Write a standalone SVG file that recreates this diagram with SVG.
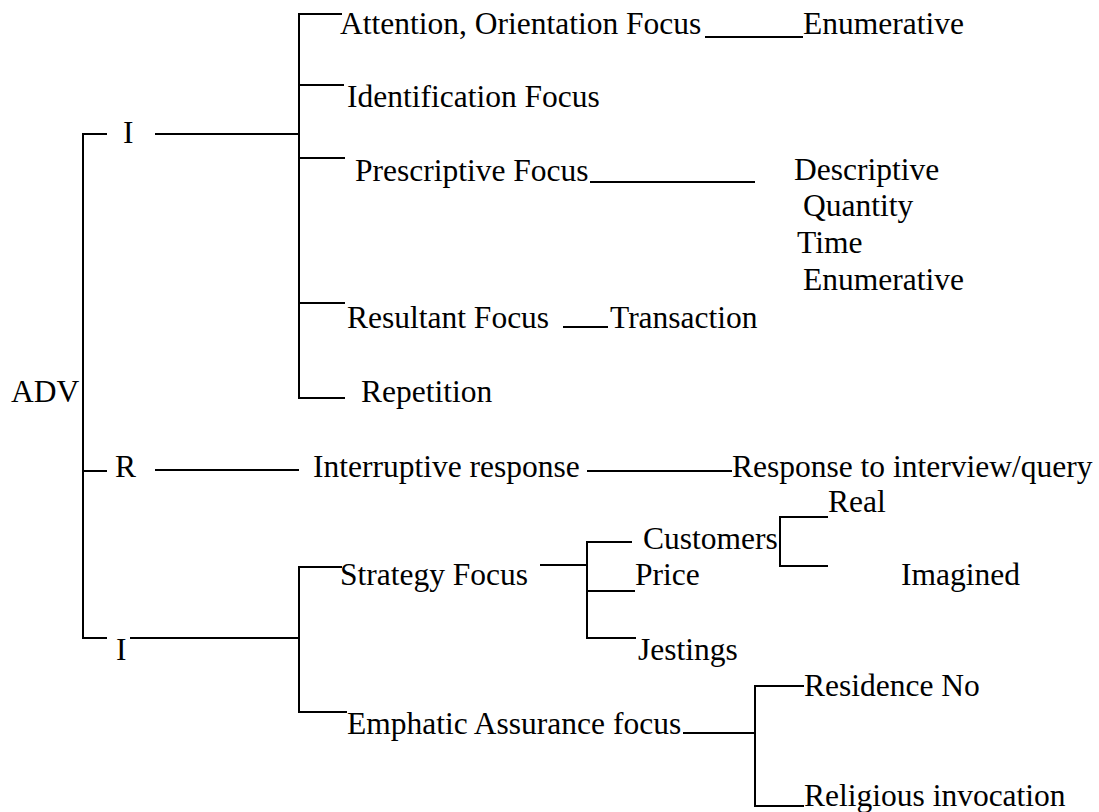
<svg xmlns="http://www.w3.org/2000/svg" width="1099" height="812" viewBox="0 0 1099 812">
<style>
.c line{stroke:#000;stroke-width:2;fill:none}
.t text{font-family:'Liberation Serif','Times New Roman',Tinos,'DejaVu Serif',serif;font-size:31.5px;fill:#000}
</style>
<rect width="1099" height="812" fill="#fff"/>
<g class="c" id="connectors">
<line x1="83" y1="133" x2="83" y2="639"/>
<line x1="82" y1="134" x2="107" y2="134"/>
<line x1="83" y1="471" x2="107" y2="471"/>
<line x1="82" y1="638" x2="107" y2="638"/>
<line x1="155" y1="134" x2="299" y2="134"/>
<line x1="299" y1="13" x2="299" y2="399"/>
<line x1="298" y1="14" x2="342" y2="14"/>
<line x1="299" y1="85" x2="344" y2="85"/>
<line x1="299" y1="158" x2="345" y2="158"/>
<line x1="299" y1="303" x2="345" y2="303"/>
<line x1="298" y1="398" x2="345" y2="398"/>
<line x1="705" y1="37" x2="803" y2="37"/>
<line x1="590" y1="182" x2="755" y2="182"/>
<line x1="563" y1="327" x2="608" y2="327"/>
<line x1="155" y1="470" x2="299" y2="470"/>
<line x1="587" y1="471" x2="732" y2="471"/>
<line x1="130" y1="638" x2="299" y2="638"/>
<line x1="299" y1="566" x2="299" y2="713"/>
<line x1="298" y1="567" x2="342" y2="567"/>
<line x1="298" y1="712" x2="347" y2="712"/>
<line x1="540" y1="565" x2="587" y2="565"/>
<line x1="587" y1="541" x2="587" y2="639"/>
<line x1="586" y1="542" x2="632" y2="542"/>
<line x1="587" y1="591" x2="635" y2="591"/>
<line x1="586" y1="638" x2="636" y2="638"/>
<line x1="780" y1="516" x2="780" y2="567"/>
<line x1="779" y1="517" x2="828" y2="517"/>
<line x1="779" y1="566" x2="828" y2="566"/>
<line x1="683" y1="733" x2="755" y2="733"/>
<line x1="755" y1="685" x2="755" y2="807"/>
<line x1="754" y1="686" x2="804" y2="686"/>
<line x1="754" y1="806" x2="804" y2="806"/>
</g>
<g class="t" font-family="Liberation Serif, Times New Roman, serif">
<g id="n-adv"><text x="11" y="402">ADV</text></g>
<g id="n-i1"><text x="123" y="143">I</text></g>
<g id="n-r"><text x="115" y="477">R</text></g>
<g id="n-i2"><text x="116" y="660">I</text></g>
<g id="n-attention"><text x="340" y="34">Attention, Orientation Focus</text></g>
<g id="n-enum1"><text x="803" y="34">Enumerative</text></g>
<g id="n-identification"><text x="347" y="107">Identification Focus</text></g>
<g id="n-prescriptive"><text x="355" y="181">Prescriptive Focus</text></g>
<g id="n-descriptive"><text x="794" y="180">Descriptive</text></g>
<g id="n-quantity"><text x="803" y="216">Quantity</text></g>
<g id="n-time"><text x="797" y="253">Time</text></g>
<g id="n-enum2"><text x="803" y="290">Enumerative</text></g>
<g id="n-resultant"><text x="347" y="328">Resultant Focus</text></g>
<g id="n-transaction"><text x="610" y="328">Transaction</text></g>
<g id="n-repetition"><text x="361" y="402">Repetition</text></g>
<g id="n-interruptive"><text x="313" y="477">Interruptive response</text></g>
<g id="n-response"><text x="732" y="477">Response to interview/query</text></g>
<g id="n-real"><text x="828" y="512">Real</text></g>
<g id="n-customers"><text x="643" y="549">Customers</text></g>
<g id="n-strategy"><text x="340" y="585">Strategy Focus</text></g>
<g id="n-price"><text x="635" y="585">Price</text></g>
<g id="n-imagined"><text x="901" y="585">Imagined</text></g>
<g id="n-jestings"><text x="638" y="660">Jestings</text></g>
<g id="n-residence"><text x="804" y="696">Residence No</text></g>
<g id="n-emphatic"><text x="347" y="734">Emphatic Assurance focus</text></g>
<g id="n-religious"><text x="804" y="806">Religious invocation</text></g>
</g>
</svg>
